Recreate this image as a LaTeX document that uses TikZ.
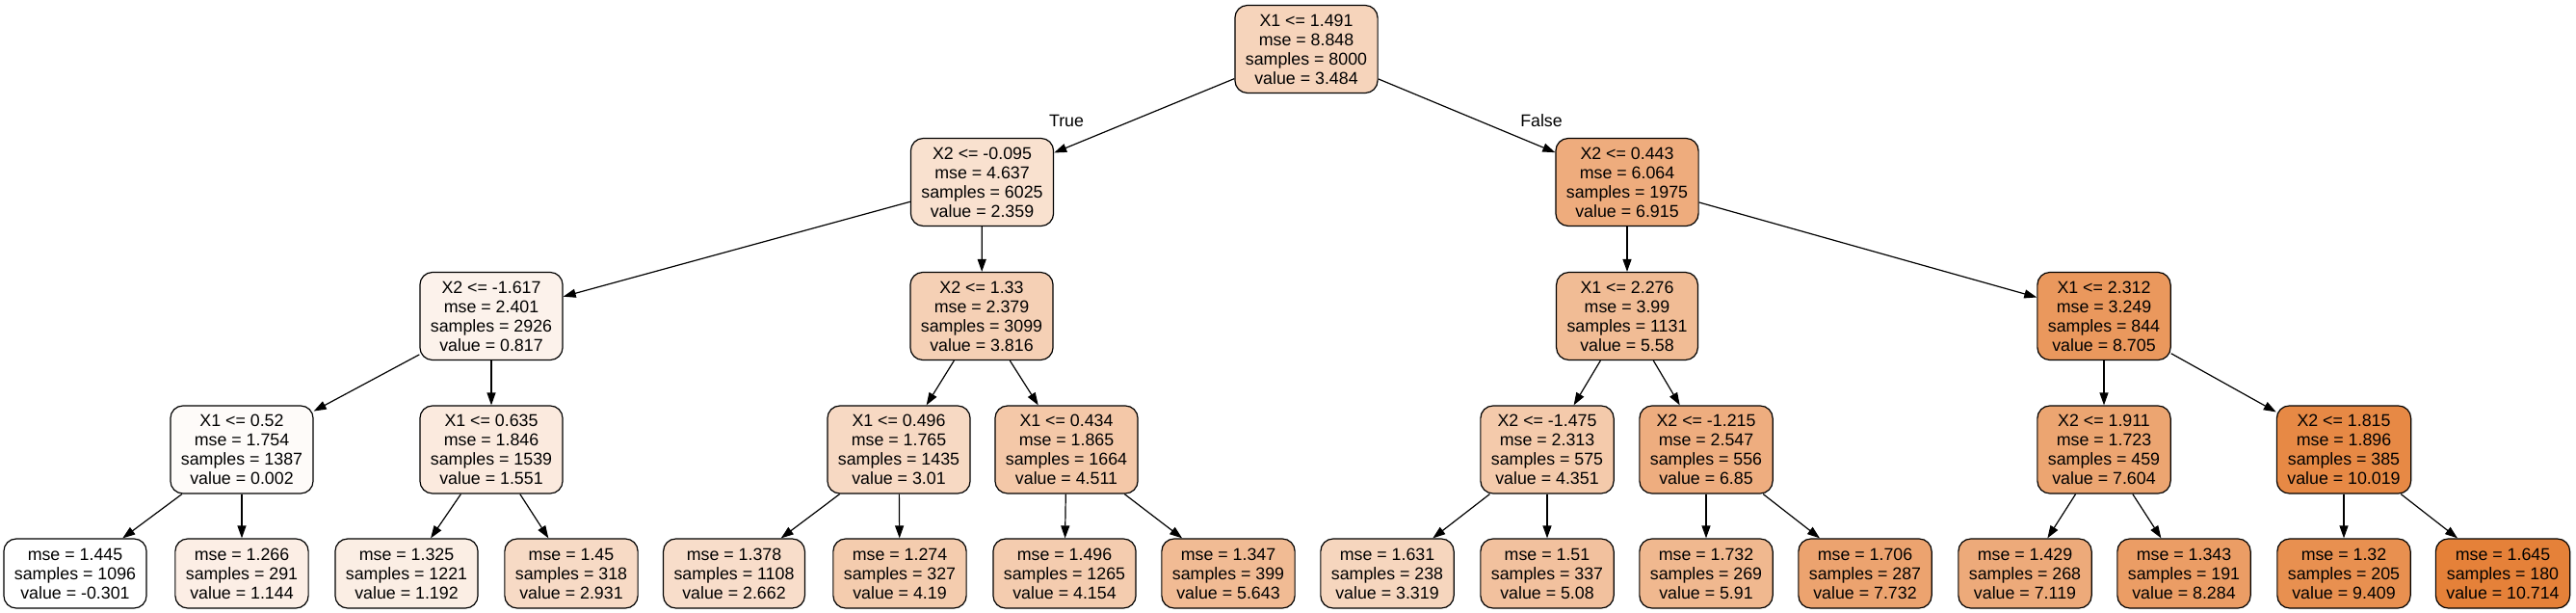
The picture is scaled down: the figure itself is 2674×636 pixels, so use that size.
\documentclass[tikz,border=0pt]{standalone}
\usepackage{fontspec}
\setmainfont{Liberation Sans}
\usetikzlibrary{arrows.meta}
\definecolor{orng}{RGB}{229,129,57}
\begin{document}
\begin{tikzpicture}[x=1pt,y=-1pt,
  box/.style={draw=black, line width=1.2pt, rounded corners=13pt, align=center,
    font=\fontsize{17.8}{20}\selectfont, inner xsep=11pt, inner ysep=0pt},
  inode/.style={box, minimum height=91pt},
  leaf/.style={box, minimum height=72pt},
  edge/.style={-{Triangle[length=13pt,width=9pt]}, line width=1.2pt},
  lbl/.style={font=\fontsize{17.8}{20}\selectfont, inner sep=0pt}]
\useasboundingbox (0,0) rectangle (2674,636);
% rank 0
\node[inode, fill=orng!34.4!white] (n0) at (1356,51) {X1 <= 1.491\\mse = 8.848\\samples = 8000\\value = 3.484};
% rank 1
\node[inode, fill=orng!24.1!white] (n1) at (1019.5,189) {X2 <= -0.095\\mse = 4.637\\samples = 6025\\value = 2.359};
\node[inode, fill=orng!65.5!white] (n2) at (1689,189) {X2 <= 0.443\\mse = 6.064\\samples = 1975\\value = 6.915};
% rank 2
\node[inode, fill=orng!10.2!white] (n3) at (510,328) {X2 <= -1.617\\mse = 2.401\\samples = 2926\\value = 0.817};
\node[inode, fill=orng!37.4!white] (n4) at (1019,328) {X2 <= 1.33\\mse = 2.379\\samples = 3099\\value = 3.816};
\node[inode, fill=orng!53.4!white] (n5) at (1689,328) {X1 <= 2.276\\mse = 3.99\\samples = 1131\\value = 5.58};
\node[inode, fill=orng!81.8!white] (n6) at (2184,328) {X1 <= 2.312\\mse = 3.249\\samples = 844\\value = 8.705};
% rank 3
\node[inode, fill=orng!2.8!white] (n7) at (251,466.5) {X1 <= 0.52\\mse = 1.754\\samples = 1387\\value = 0.002};
\node[inode, fill=orng!16.8!white] (n8) at (510,466.5) {X1 <= 0.635\\mse = 1.846\\samples = 1539\\value = 1.551};
\node[inode, fill=orng!30.1!white] (n9) at (933,466.5) {X1 <= 0.496\\mse = 1.765\\samples = 1435\\value = 3.01};
\node[inode, fill=orng!43.7!white] (n10) at (1107,466.5) {X1 <= 0.434\\mse = 1.865\\samples = 1664\\value = 4.511};
\node[inode, fill=orng!42.2!white] (n11) at (1606,466.5) {X2 <= -1.475\\mse = 2.313\\samples = 575\\value = 4.351};
\node[inode, fill=orng!64.9!white] (n12) at (1771,466.5) {X2 <= -1.215\\mse = 2.547\\samples = 556\\value = 6.85};
\node[inode, fill=orng!71.8!white] (n13) at (2184,466.5) {X2 <= 1.911\\mse = 1.723\\samples = 459\\value = 7.604};
\node[inode, fill=orng!93.7!white] (n14) at (2433,466.5) {X2 <= 1.815\\mse = 1.896\\samples = 385\\value = 10.019};
% leaves
\node[leaf, fill=white] (l1) at (78,595) {mse = 1.445\\samples = 1096\\value = -0.301};
\node[leaf, fill=orng!13.1!white] (l2) at (251,595) {mse = 1.266\\samples = 291\\value = 1.144};
\node[leaf, fill=orng!13.6!white] (l3) at (422,595) {mse = 1.325\\samples = 1221\\value = 1.192};
\node[leaf, fill=orng!29.3!white] (l4) at (593,595) {mse = 1.45\\samples = 318\\value = 2.931};
\node[leaf, fill=orng!26.9!white] (l5) at (762,595) {mse = 1.378\\samples = 1108\\value = 2.662};
\node[leaf, fill=orng!40.8!white] (l6) at (934,595) {mse = 1.274\\samples = 327\\value = 4.19};
\node[leaf, fill=orng!40.4!white] (l7) at (1105,595) {mse = 1.496\\samples = 1265\\value = 4.154};
\node[leaf, fill=orng!54.0!white] (l8) at (1275,595) {mse = 1.347\\samples = 399\\value = 5.643};
\node[leaf, fill=orng!32.9!white] (l9) at (1440,595) {mse = 1.631\\samples = 238\\value = 3.319};
\node[leaf, fill=orng!48.9!white] (l10) at (1606,595) {mse = 1.51\\samples = 337\\value = 5.08};
\node[leaf, fill=orng!56.4!white] (l11) at (1771,595) {mse = 1.732\\samples = 269\\value = 5.91};
\node[leaf, fill=orng!72.9!white] (l12) at (1936,595) {mse = 1.706\\samples = 287\\value = 7.732};
\node[leaf, fill=orng!67.4!white] (l13) at (2102,595) {mse = 1.429\\samples = 268\\value = 7.119};
\node[leaf, fill=orng!77.9!white] (l14) at (2267,595) {mse = 1.343\\samples = 191\\value = 8.284};
\node[leaf, fill=orng!88.2!white] (l15) at (2433,595) {mse = 1.32\\samples = 205\\value = 9.409};
\node[leaf, fill=orng!100!white] (l16) at (2598,595) {mse = 1.645\\samples = 180\\value = 10.714};
% edge labels
\node[lbl] (tl) at (1107,125) {True};
\node[lbl] (fl) at (1600,125) {False};
% edges
\draw[edge] (n0) -- (n1);
\draw[edge] (n0) -- (n2);
\draw[edge] (n1) -- (n3);
\draw[edge] (n1) -- (n4);
\draw[edge] (n2) -- (n5);
\draw[edge] (n2) -- (n6);
\draw[edge] (n3) -- (n7);
\draw[edge] (n3) -- (n8);
\draw[edge] (n4) -- (n9);
\draw[edge] (n4) -- (n10);
\draw[edge] (n5) -- (n11);
\draw[edge] (n5) -- (n12);
\draw[edge] (n6) -- (n13);
\draw[edge] (n6) -- (n14);
\draw[edge] (n7) -- (l1);
\draw[edge] (n7) -- (l2);
\draw[edge] (n8) -- (l3);
\draw[edge] (n8) -- (l4);
\draw[edge] (n9) -- (l5);
\draw[edge] (n9) -- (l6);
\draw[edge] (n10) -- (l7);
\draw[edge] (n10) -- (l8);
\draw[edge] (n11) -- (l9);
\draw[edge] (n11) -- (l10);
\draw[edge] (n12) -- (l11);
\draw[edge] (n12) -- (l12);
\draw[edge] (n13) -- (l13);
\draw[edge] (n13) -- (l14);
\draw[edge] (n14) -- (l15);
\draw[edge] (n14) -- (l16);
\end{tikzpicture}
\end{document}
